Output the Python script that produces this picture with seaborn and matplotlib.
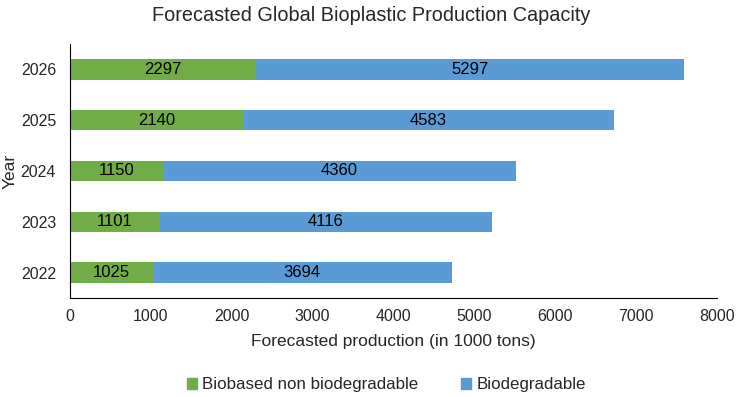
import matplotlib
matplotlib.use("Agg")
import matplotlib.pyplot as plt
import seaborn as sns
import pandas as pd
from matplotlib.patches import Patch

years = ["2022", "2023", "2024", "2025", "2026"]
biobased = [1025, 1101, 1150, 2140, 2297]
biodegradable = [3694, 4116, 4360, 4583, 5297]
series_names = ["Biobased non biodegradable", "Biodegradable"]
xticks = [0, 1000, 2000, 3000, 4000, 5000, 6000, 7000, 8000]

GREEN = "#70AD47"
BLUE = "#5B9BD5"

sns.set_theme(style="white")
plt.rcParams["font.family"] = ["Liberation Sans", "DejaVu Sans"]

df = pd.DataFrame({"Year": years, "bio": biobased, "deg": biodegradable})
df["total"] = df["bio"] + df["deg"]
order = years[::-1]

fig = plt.figure(figsize=(7.36, 3.97), dpi=100)
# axes: x 70..717 px, y 44..298 px
ax = fig.add_axes([70 / 736, 1 - 298 / 397, 647 / 736, 254 / 397])

sns.barplot(data=df, y="Year", x="total", order=order, color=BLUE, width=0.4,
            saturation=1, ax=ax, orient="h", linewidth=0)
sns.barplot(data=df, y="Year", x="bio", order=order, color=GREEN, width=0.4,
            saturation=1, ax=ax, orient="h", linewidth=0)

for i, yr in enumerate(order):
    row = df[df["Year"] == yr].iloc[0]
    ax.text(row["bio"] / 2, i, f"{row['bio']}", ha="center", va="center",
            fontsize=12, color="black")
    ax.text(row["bio"] + row["deg"] / 2, i, f"{row['deg']}", ha="center",
            va="center", fontsize=12, color="black")

ax.set_xlim(0, 8000)
ax.set_ylim(4.5, -0.5)
ax.set_xticks(xticks)
ax.set_xticklabels([str(t) for t in xticks], fontsize=11.5)
ax.tick_params(axis="y", labelsize=11.5, length=0, pad=10)
ax.tick_params(axis="x", direction="out", length=4, width=0.8, color="black", pad=4)
ax.set_xlabel("Forecasted production (in 1000 tons)", fontsize=12.5, labelpad=7)
ax.set_ylabel("Year", fontsize=12.5)
ax.yaxis.label.set_va("center")
ax.yaxis.set_label_coords((10 - 70) / 647, 0.5)
for s in ["top", "right"]:
    ax.spines[s].set_visible(False)
for s in ["left", "bottom"]:
    ax.spines[s].set_color("black")
    ax.spines[s].set_linewidth(0.8)

fig.suptitle("Forecasted Global Bioplastic Production Capacity", fontsize=14.3,
             x=0.505, y=0.985)

handles = [Patch(color=GREEN, label=series_names[0]),
           Patch(color=BLUE, label=series_names[1])]
fig.legend(handles=handles, loc="center", bbox_to_anchor=(0.525, 1 - 385 / 397),
           ncol=2, frameon=False, fontsize=12.2, handlelength=0.6,
           handleheight=0.6, handletextpad=0.3, columnspacing=2.5)

fig.savefig("out.png", dpi=100)
